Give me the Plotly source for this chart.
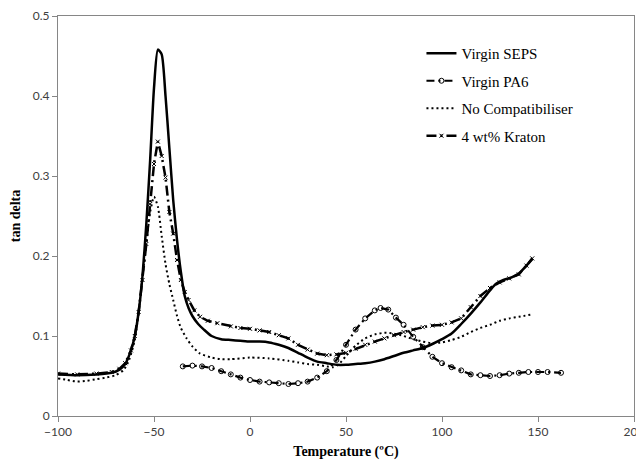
import plotly.graph_objects as go

# ---- data ----
seps_T = [-100, -90, -80, -72, -68, -65, -62, -60, -58, -56, -54, -52, -50, -48, -46, -44, -42, -40, -38, -36, -34, -32, -30, -27, -24, -20, -15, -10, -5, 0, 5, 10, 15, 20, 25, 30, 35, 40, 45, 50, 55, 60, 65, 70, 75, 80, 85, 90, 95, 100, 105, 110, 115, 120, 125, 128, 132, 136, 140, 144, 147]
seps_v = [0.052, 0.051, 0.052, 0.054, 0.058, 0.065, 0.082, 0.100, 0.130, 0.175, 0.240, 0.320, 0.410, 0.458, 0.452, 0.400, 0.335, 0.270, 0.220, 0.180, 0.150, 0.135, 0.125, 0.115, 0.108, 0.100, 0.096, 0.095, 0.094, 0.093, 0.093, 0.092, 0.089, 0.085, 0.079, 0.073, 0.068, 0.066, 0.064, 0.064, 0.065, 0.066, 0.068, 0.071, 0.075, 0.079, 0.082, 0.085, 0.090, 0.096, 0.103, 0.115, 0.128, 0.142, 0.157, 0.165, 0.170, 0.173, 0.178, 0.188, 0.196]

pa6_T = [-35, -30, -25, -20, -15, -10, -5, 0, 5, 10, 15, 20, 25, 30, 35, 40, 45, 50, 55, 60, 65, 68, 72, 76, 80, 85, 90, 95, 100, 105, 110, 115, 120, 125, 130, 135, 140, 145, 150, 155, 162]
pa6_v = [0.062, 0.063, 0.062, 0.060, 0.056, 0.052, 0.048, 0.045, 0.043, 0.042, 0.041, 0.040, 0.041, 0.043, 0.048, 0.056, 0.070, 0.089, 0.108, 0.122, 0.132, 0.135, 0.133, 0.123, 0.114, 0.099, 0.086, 0.074, 0.066, 0.061, 0.057, 0.052, 0.051, 0.050, 0.051, 0.053, 0.054, 0.055, 0.055, 0.055, 0.054]

nocomp_T = [-100, -95, -90, -85, -80, -75, -70, -66, -63, -60, -58, -56, -54, -52, -50, -48, -46, -44, -42, -40, -38, -36, -33, -30, -26, -20, -15, -10, 0, 10, 20, 25, 30, 35, 40, 43, 46, 50, 55, 60, 65, 70, 75, 80, 85, 90, 95, 100, 105, 110, 115, 120, 125, 130, 135, 140, 147]
nocomp_v = [0.047, 0.045, 0.043, 0.044, 0.046, 0.048, 0.051, 0.057, 0.070, 0.095, 0.130, 0.175, 0.215, 0.255, 0.274, 0.262, 0.225, 0.190, 0.165, 0.145, 0.125, 0.110, 0.097, 0.087, 0.078, 0.073, 0.071, 0.071, 0.073, 0.072, 0.069, 0.067, 0.065, 0.064, 0.062, 0.061, 0.064, 0.075, 0.088, 0.097, 0.102, 0.104, 0.103, 0.100, 0.096, 0.093, 0.091, 0.092, 0.095, 0.099, 0.105, 0.110, 0.114, 0.119, 0.122, 0.124, 0.127]

kraton_T = [-100, -90, -80, -72, -68, -65, -62, -60, -58, -56, -54, -52, -50, -48, -46, -44, -42, -40, -38, -36, -34, -32, -29, -26, -22, -17, -10, -5, 0, 5, 10, 15, 20, 25, 30, 35, 40, 45, 50, 55, 60, 65, 70, 75, 80, 85, 90, 95, 100, 105, 110, 115, 120, 125, 130, 135, 140, 144, 147]
kraton_v = [0.053, 0.052, 0.053, 0.055, 0.059, 0.066, 0.082, 0.100, 0.130, 0.170, 0.215, 0.265, 0.315, 0.343, 0.325, 0.298, 0.255, 0.228, 0.195, 0.170, 0.155, 0.145, 0.132, 0.124, 0.119, 0.116, 0.112, 0.110, 0.109, 0.107, 0.105, 0.101, 0.097, 0.089, 0.083, 0.078, 0.076, 0.077, 0.079, 0.084, 0.089, 0.093, 0.097, 0.101, 0.105, 0.108, 0.111, 0.113, 0.114, 0.117, 0.122, 0.136, 0.150, 0.160, 0.167, 0.172, 0.177, 0.188, 0.197]

x_ticks = [-100, -50, 0, 50, 100, 150, 200]
y_ticks = [0, 0.1, 0.2, 0.3, 0.4, 0.5]
y_ticklabels = ["0", "0.1", "0.2", "0.3", "0.4", "0.5"]

fig = go.Figure()
fig.add_trace(go.Scatter(x=seps_T, y=seps_v, name="Virgin SEPS", mode="lines",
                         line=dict(color="black", width=2.5, shape="spline", smoothing=0.6),
                         legendgroup="a"))
fig.add_trace(go.Scatter(x=pa6_T, y=pa6_v, name="Virgin PA6", mode="lines+markers",
                         line=dict(color="black", width=2.2, dash="8px,4px,2px,4px"),
                         marker=dict(symbol="circle-open", size=5, color="black", line=dict(width=1)),
                         legendgroup="b"))
fig.add_trace(go.Scatter(x=nocomp_T, y=nocomp_v, name="No Compatibiliser", mode="lines",
                         line=dict(color="black", width=2, dash="2px,3px", shape="spline", smoothing=0.6),
                         legendgroup="c"))
fig.add_trace(go.Scatter(x=kraton_T, y=kraton_v, name="4 wt% Kraton", mode="lines+markers",
                         line=dict(color="black", width=2.5, dash="10px,4px,2px,4px"),
                         marker=dict(symbol="x-thin-open", size=4, color="black", line=dict(width=1, color="black")),
                         legendgroup="d"))

axis_font = dict(family="Lato, Liberation Sans, sans-serif", size=12, color="#404040")
title_font = dict(family="Liberation Serif, Times New Roman, serif", size=14, color="black")

# the page body has an 8px default margin, so the figure is sized to fit the window
fig.update_layout(
    width=636, height=457,
    margin=dict(l=50, r=10, t=8, b=49),
    paper_bgcolor="white", plot_bgcolor="white",
    showlegend=True,
    legend=dict(x=0.631, y=0.9475, xanchor="left", yanchor="top", itemwidth=30,
                font=dict(family="Liberation Serif, Times New Roman, serif", size=15, color="black"),
                bgcolor="rgba(0,0,0,0)", tracegroupgap=5, traceorder="grouped"),
    xaxis=dict(range=[-100, 200], tickvals=x_ticks, ticks="outside", ticklen=5,
               tickcolor="#868686", showline=True, linecolor="#868686", linewidth=1,
               mirror=True, showgrid=False, zeroline=False, tickfont=axis_font, automargin=False,
               ticklabeloverflow="allow",
               title=dict(text="<b>Temperature (ºC)</b>", font=title_font, standoff=7)),
    yaxis=dict(range=[0, 0.5], tickvals=y_ticks, ticktext=y_ticklabels, ticks="outside", ticklen=5,
               tickcolor="#868686", showline=True, linecolor="#868686", linewidth=1,
               mirror=True, showgrid=False, zeroline=False, tickfont=axis_font, automargin=False,
               title=dict(text="<b>tan delta</b>", font=title_font, standoff=18)),
)

fig.write_html("out.html")
